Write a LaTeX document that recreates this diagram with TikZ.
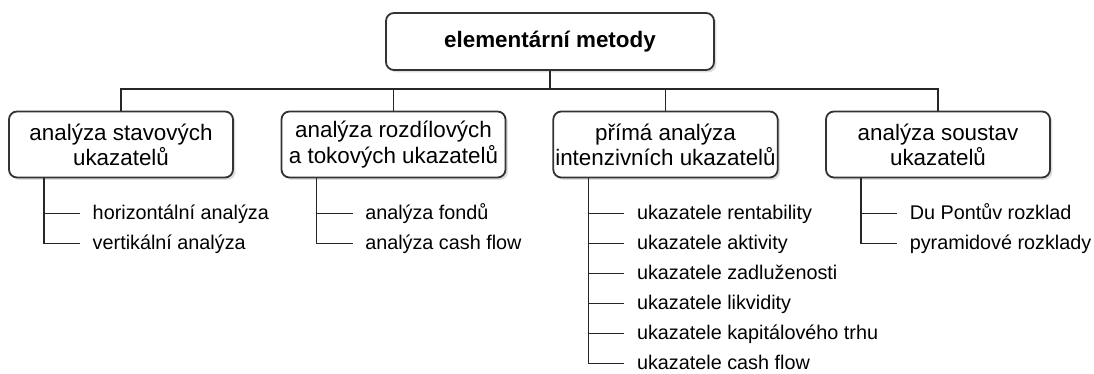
\documentclass[tikz,border=0pt]{standalone}
\usepackage{fontspec}
\setmainfont{Liberation Sans}
\usetikzlibrary{positioning,calc,shadows}

\begin{document}
\begin{tikzpicture}[
  x=0.5pt, y=-0.5pt,
  line width=0.65pt, draw=black!85,
  box/.style={draw=black!80, line width=0.9pt, rounded corners=4pt, fill=white,
    align=center, inner sep=1pt, minimum width=112pt, minimum height=33pt,
    font=\fontsize{11.2}{12.6}\selectfont,
    drop shadow={shadow xshift=1.2pt, shadow yshift=-1.2pt, fill=black, opacity=0.13}},
  topbox/.style={box, minimum width=164pt, minimum height=28.5pt,
    font=\fontsize{11.2}{12.6}\selectfont\bfseries},
  leaf/.style={anchor=west, inner sep=0pt, text height=7.2pt, text depth=1pt,
    font=\fontsize{9.9}{12}\selectfont}
]
  \useasboundingbox (0,0) rectangle (1094,374);

  \node[topbox] (top) at (550,41.5) {elementární metody};

  \node[box] (c1) at (121,144.5) {analýza stavových\\ukazatelů};
  \node[box] (c2) at (393.5,144.5) {analýza rozdílových\\a tokových ukazatelů};
  \node[box] (c3) at (665.5,144.5) {přímá analýza\\intenzivních ukazatelů};
  \node[box] (c4) at (938,144.5) {analýza soustav\\ukazatelů};

  % bus to the four groups
  \coordinate (bus) at (550,89);
  \draw (top.south) -- (bus);
  \draw (c1.north) |- (bus) -| (c4.north);
  \draw (bus -| c2.north) -- (c2.north);
  \draw (bus -| c3.north) -- (c3.north);

  % leaves of each group
  \foreach \g/\n/\leaves in {
      c1/2/{horizontální analýza, vertikální analýza},
      c2/2/{analýza fondů, analýza cash flow},
      c3/6/{ukazatele rentability, ukazatele aktivity, ukazatele zadluženosti,
            ukazatele likvidity, ukazatele kapitálového trhu, ukazatele cash flow},
      c4/2/{Du Pontův rozklad, pyramidové rozklady}} {
    \foreach \t [count=\k] in \leaves {
      \node[leaf] (\g-\k) at ($(\g.south west)+(84,{35+30*(\k-1)})$) {\t};
      \draw ([xshift=-6pt]\g-\k.west) -- ([xshift=-24pt]\g-\k.west);
    }
    \draw ([xshift=-24pt]\g-1.west |- \g.south) |- ([xshift=-6pt]\g-\n.west);
  }
\end{tikzpicture}
\end{document}
